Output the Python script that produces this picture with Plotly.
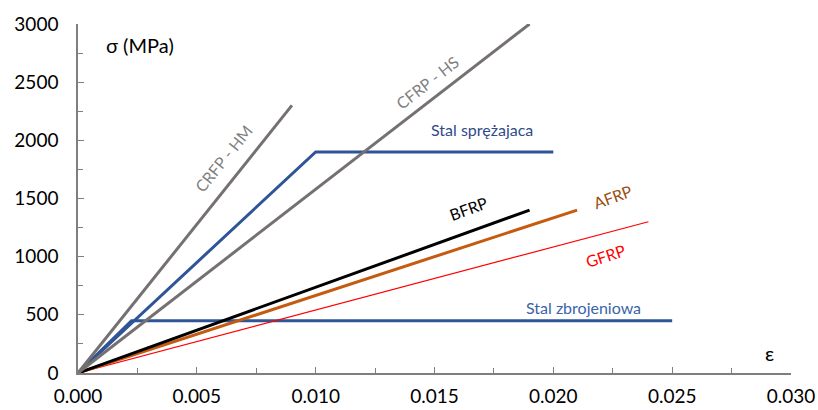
import plotly.graph_objects as go

# Strain / stress data (epsilon, sigma MPa)
crfp_hm_x = [0.0, 0.009]
crfp_hm_y = [0, 2300]
cfrp_hs_x = [0.0, 0.019]
cfrp_hs_y = [0, 3000]
stal_spr_x = [0.0, 0.010, 0.020]
stal_spr_y = [0, 1900, 1900]
bfrp_x = [0.0, 0.019]
bfrp_y = [0, 1400]
afrp_x = [0.0, 0.021]
afrp_y = [0, 1400]
gfrp_x = [0.0, 0.024]
gfrp_y = [0, 1300]
stal_zbr_x = [0.0, 0.00225, 0.025]
stal_zbr_y = [0, 450, 450]

FONT = "Lato"
GRAY = "#767171"
BLUE = "#2f5597"
ORANGE = "#c55a11"

fig = go.Figure()

def add(x, y, color, width):
    fig.add_trace(go.Scatter(x=x, y=y, mode="lines",
                             line=dict(color=color, width=width),
                             showlegend=False, hoverinfo="skip"))

add(stal_zbr_x, stal_zbr_y, BLUE, 3)
add(gfrp_x, gfrp_y, "#ff0000", 1.2)
add(afrp_x, afrp_y, ORANGE, 3)
add(bfrp_x, bfrp_y, "#000000", 3)
add(stal_spr_x, stal_spr_y, BLUE, 3)
add(cfrp_hs_x, cfrp_hs_y, GRAY, 3)
add(crfp_hm_x, crfp_hm_y, GRAY, 3)

labels = [
    ("CRFP - HM", 0.0061, 1848, -51, "#7f7f7f"),
    ("CFRP - HS", 0.01468, 2501, -38, "#7f7f7f"),
    ("Stal sprężajaca", 0.0170, 2097, 0, "#2f4b8a"),
    ("BFRP", 0.01641, 1410, -20, "#000000"),
    ("AFRP", 0.02251, 1513, -20, "#9c4e12"),
    ("GFRP", 0.02221, 1014, -18, "#ff0000"),
    ("Stal zbrojeniowa", 0.02129, 567, 0, "#3a64a8"),
]
for text, x, y, ang, col in labels:
    fig.add_annotation(x=x, y=y, text=text, showarrow=False, textangle=ang,
                       font=dict(family=FONT, size=16, color=col),
                       xanchor="center", yanchor="middle")

fig.add_annotation(x=0.0026, y=2820, text="σ (MPa)", showarrow=False,
                   font=dict(family=FONT, size=20, color="#000000"))
fig.add_annotation(x=0.0291, y=172, text="ε", showarrow=False,
                   font=dict(family=FONT, size=20, color="#000000"))

fig.update_layout(
    width=818, height=410,
    margin=dict(l=78, r=27, t=24, b=37),
    paper_bgcolor="white", plot_bgcolor="white",
    font=dict(family=FONT, size=19, color="#000000"),
    xaxis=dict(range=[0, 0.030], dtick=0.005, tick0=0, tickformat=".3f",
               showgrid=False, zeroline=False, showline=True, automargin=False,
               linecolor="#7f7f7f", linewidth=1.5,
               ticks="inside", ticklen=6, tickcolor="#7f7f7f",
               minor=dict(ticks="inside", dtick=0.0025, ticklen=5, tickcolor="#7f7f7f"),
               ticklabelstandoff=5, tickfont=dict(size=19)),
    yaxis=dict(range=[0, 3000], dtick=500, tick0=0,
               showgrid=False, zeroline=False, showline=True, automargin=False,
               linecolor="#7f7f7f", linewidth=1.5,
               ticks="inside", ticklen=6, tickcolor="#7f7f7f",
               minor=dict(ticks="inside", dtick=250, ticklen=5, tickcolor="#7f7f7f"),
               ticklabelstandoff=14, tickfont=dict(size=19)),
)

fig.write_html("out.html", config={"displayModeBar": False},
               post_script="document.body.style.margin='0';document.body.style.overflow='hidden';")
